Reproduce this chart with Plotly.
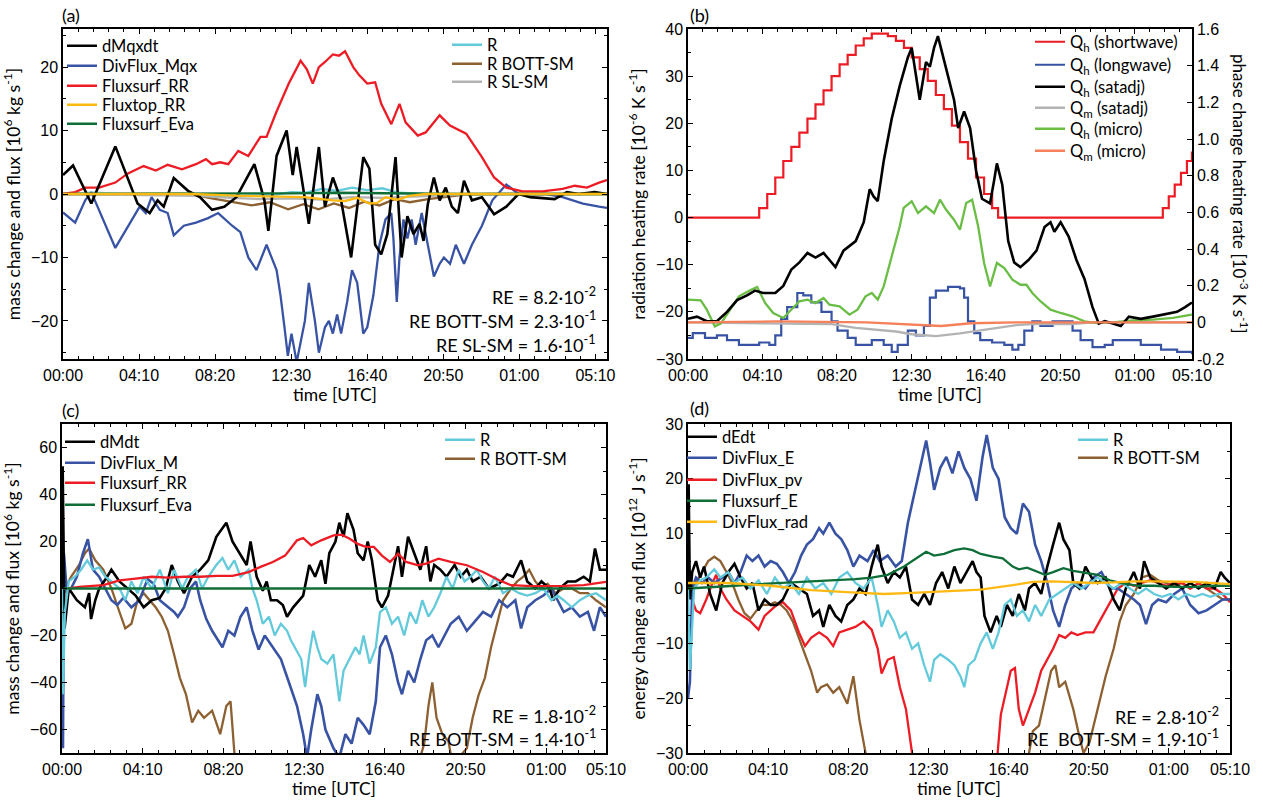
import plotly.graph_objects as go

W, H = 1263, 801
FONT = "Lato"
TICKFONT = "Liberation Sans"

# ---------------- time axis labels ----------------
tick_text = ["00:00", "04:10", "08:20", "12:30", "16:40", "20:50", "01:00", "05:10"]

# ---------------- panel (a) ----------------
a_t_dMqxdt = [0,33,93,172,245,285,311,331,364,411,450,490,530,570,629,662,675,702,735,755,768,808,841,861,887,914,947,967,987,1007,1026,1046,1066,1093,1113,1132,1152,1172,1185,1199,1219,1238,1258,1278,1298,1318,1344,1377,1417,1457,1497,1536,1616,1656,1695,1748,1788]
a_v_dMqxdt = [3,4.5,-1.5,7.5,-1.5,-3,-1,-2,2.5,0.5,-0.5,-2.5,-2,-0.5,4.7,-1,-5.8,6,10,3,7.4,-4.7,7.4,-2,2.6,-1,-10,-2,5.8,4,-8,-9.5,-6.3,5.8,-10,-3.5,-6.3,-4.7,-7.4,-1.6,2.6,-1,1,-2,-3,2.1,-1,-0.5,-3.2,-2,0,-0.5,-0.8,0.3,0,0.3,0]
a_t_div = [0,40,73,93,172,252,272,291,318,344,364,397,437,477,510,556,583,609,636,656,669,702,715,728,739,751,761,768,795,808,828,841,861,874,887,901,914,934,950,967,987,1000,1020,1040,1060,1079,1086,1097,1106,1119,1132,1146,1159,1179,1199,1219,1238,1252,1272,1291,1318,1344,1377,1411,1457,1497,1536,1589,1642,1709,1762,1788]
a_v_div = [-2.9,-4.5,-1,0.3,-8.5,-2,-3,-0.5,-2.5,-3,-6.5,-5,-4.5,-3.8,-3,-5,-6,-10,-12,-9.5,-8,-12,-16,-21,-25.5,-22,-25,-26.5,-20,-14,-20,-25,-21,-20,-22,-19,-22,-17,-12,-14,-22,-21,-16,-8,-4,-3,-7,-17,-10,-4,-7,-4,-8,-3,-8,-13,-11,-10,-11,-8,-11,-8,-5,-1,1.5,0,0,0,-0.5,-1.5,-2,-2.2]
a_t_rr = [0,40,73,119,172,212,265,305,344,391,437,470,490,517,543,576,609,649,669,702,742,781,801,821,841,861,887,907,927,954,974,1000,1026,1046,1079,1106,1126,1166,1192,1238,1272,1325,1377,1417,1457,1510,1576,1642,1682,1722,1762,1788]
a_v_rr = [0,0.3,1,1,1.8,3.2,4.4,3.7,4.6,3.9,4.7,5.5,4.7,5,4.7,6.8,6,9,9,13,17.4,21,19.7,17.4,20,20.8,22,21.8,22.5,20,18.7,17.4,17.6,14.2,11,14.2,11.3,9.2,9.7,12.4,10.8,9.5,5.8,2.6,1,0.4,0.4,0.8,1.3,1,1.8,2.2]
a_t_top = [0,424,583,795,887,927,967,1007,1033,1060,1099,1139,1192,1788]
a_v_top = [0,0,-0.3,-0.5,-1,-1.1,-0.6,-1.5,-1.4,-0.5,-0.9,-0.3,0,0]
a_t_eva = [0,500,750,900,1050,1300,1788]
a_v_eva = [0,0,0.1,0.2,0.1,0,0]
a_t_R = [0,100,200,300,400,500,600,700,750,800,850,900,950,1000,1050,1100,1200,1300,1400,1500,1600,1788]
a_v_R = [0,0.2,0,0,0.1,-0.2,-0.3,-0.1,0.3,0.2,0.8,0.5,1.0,0.6,0.9,0.2,0,0,0,0,0,0]
a_t_bott = [0,420,480,550,620,680,740,790,840,890,940,990,1040,1090,1140,1200,1260,1320,1400,1788]
a_v_bott = [0,0,-0.6,-1.2,-1.8,-1.3,-2.4,-1.6,-2.4,-1.5,-2.2,-1.2,-1.8,-0.8,-1.3,-0.8,-0.5,-0.1,0,0]
a_t_sl = [0,450,550,650,750,850,950,1050,1150,1250,1350,1788]
a_v_sl = [0,-0.3,-0.6,-0.8,-0.7,-0.9,-0.5,-0.6,-0.4,-0.2,0,0]

# ---------------- panel (b) ----------------
b_t_sw = [0,219,239,266,293,320,347,374,401,428,455,482,509,536,563,590,617,644,671,698,725,751,778,805,832,859,886,913,940,967,994,1021,1041,1574,1594,1614,1634,1655,1675,1692]
b_v_sw = [0,0,2,5,8.5,12,15,18,21,24,27,30,32.5,34.5,36.5,38,39,39,38.5,37.5,36,34,31.5,29,26,23,19.5,16,12.5,8.5,5,2,0,0,2,4.5,7,9.5,12,14]
b_t_lw = [0,16,57,97,131,171,239,273,293,313,333,367,387,414,448,482,502,536,563,617,657,684,704,738,765,792,812,832,873,913,927,940,961,981,1021,1062,1089,1109,1129,1156,1183,1224,1264,1291,1318,1358,1399,1426,1480,1520,1588,1642,1692]
b_v_lw = [-25.5,-24.5,-25.5,-25,-26,-27,-26.5,-27,-25,-21.5,-19,-16,-16.5,-18,-20,-22,-24,-25.5,-27,-26,-27,-28.5,-27,-24,-25,-23,-17,-15.5,-14.7,-15,-17,-22,-24.5,-26,-26.5,-27,-28,-27,-24,-22,-23,-22,-22,-24,-26,-27.5,-27,-26,-26,-27,-28,-28.5,-29]
b_t_sat = [0,30,63,97,131,165,198,225,252,293,320,347,374,401,428,455,475,495,522,563,590,610,623,637,657,684,711,738,751,765,778,799,812,826,839,853,873,893,907,927,947,967,987,1014,1028,1037,1055,1075,1095,1116,1143,1170,1197,1217,1230,1251,1278,1304,1331,1358,1379,1399,1426,1453,1480,1520,1561,1601,1642,1669,1692]
b_v_sat = [0.019,0.031,0.006,0.006,0.057,0.121,0.147,0.173,0.160,0.160,0.199,0.288,0.327,0.378,0.353,0.378,0.340,0.301,0.391,0.443,0.546,0.726,0.687,0.661,0.880,1.111,1.291,1.445,1.497,1.343,1.214,1.420,1.394,1.497,1.561,1.471,1.343,1.214,1.060,1.150,1.060,0.828,0.674,0.649,0.777,0.867,0.751,0.443,0.327,0.301,0.340,0.391,0.520,0.546,0.494,0.546,0.468,0.340,0.237,0.083,-0.007,0.006,-0.007,-0.020,0.031,0.019,0.031,0.044,0.057,0.083,0.108]
b_t_qmsat = [0,279,482,563,644,698,751,832,913,981,1048,1102,1156,1291,1358,1692]
b_v_qmsat = [0,-0.005,-0.01,-0.03,-0.04,-0.05,-0.065,-0.075,-0.06,-0.045,-0.03,-0.015,-0.01,-0.01,0,0]
b_t_micro = [0,43,63,90,111,138,171,212,232,259,286,320,347,374,401,428,455,475,509,542,569,596,617,637,657,684,711,724,751,772,799,826,846,866,893,913,934,954,974,994,1014,1037,1062,1089,1116,1136,1156,1183,1217,1251,1291,1331,1372,1426,1493,1561,1628,1692]
b_v_micro = [0.124,0.12,0.069,-0.022,-0.005,0.06,0.142,0.178,0.193,0.105,0.051,0.024,0.069,0.115,0.124,0.105,0.133,0.096,0.087,0.042,0.069,0.142,0.16,0.124,0.196,0.36,0.524,0.624,0.66,0.596,0.633,0.596,0.669,0.615,0.56,0.505,0.651,0.669,0.524,0.324,0.196,0.324,0.296,0.233,0.205,0.205,0.16,0.115,0.069,0.051,0.033,0.005,-0.004,0,0.011,0.015,0.024,0.042]
b_t_qmmicro = [0,300,600,750,850,950,1100,1692]
b_v_qmmicro = [0,0.005,0,-0.01,-0.02,-0.005,0,0]

# ---------------- panel (c) ----------------
c_t_dMdt = [0,2,8,21,46,71,84,90,103,115,140,153,178,203,228,253,278,303,321,340,359,378,403,428,453,478,509,528,553,572,584,603,622,634,647,666,684,697,716,734,747,766,784,803,816,828,847,859,872,884,903,916,934,947,960,978,991,1010,1028,1041,1053,1072,1091,1110,1128,1141,1153,1172,1191,1216,1235,1254,1272,1297,1322,1354,1379,1397,1422,1441,1466,1485,1510,1522,1541,1566,1591,1616,1635,1651,1666,1685]
c_v_dMdt = [0,52,-17,0,-5,-8,-2,-13,-5,0,5,8,3,0,-3,-8,-5,-4,0,10,3,-2,5,8,12,22,28,20,14,10,20,5,-1,3,-5,-5,-7,-12,-8,-5,-3,10,5,12,2,15,20,28,22,32,25,15,12,20,12,-5,-8,-3,10,18,5,22,15,8,18,3,10,8,5,10,5,8,3,5,0,2,6,5,12,3,0,3,0,-5,0,3,3,5,3,17,8,8]
c_t_div = [0,1,3,6,15,28,46,65,80,96,115,134,153,171,190,215,240,265,284,303,328,347,359,378,397,415,428,447,465,484,497,515,534,553,572,590,609,628,653,678,703,728,747,759,772,791,803,816,841,859,878,897,916,934,953,972,985,1003,1022,1041,1053,1072,1091,1110,1128,1147,1166,1185,1204,1229,1254,1279,1304,1329,1354,1379,1404,1422,1441,1466,1491,1516,1535,1554,1579,1604,1629,1648,1666,1685]
c_v_div = [0,32,-68,15,-2,0,5,15,21,8,5,0,-5,-7,-4,-8,-5,4,2,-5,-8,-10,-12,-8,0,3,-5,-13,-18,-22,-25,-18,-20,-12,-8,-18,-26,-20,-25,-30,-40,-50,-62,-72,-60,-45,-50,-60,-68,-72,-62,-66,-55,-58,-62,-48,-25,-20,-28,-40,-45,-35,-40,-30,-22,-20,-25,-20,-15,-12,-18,-14,-10,-12,-5,-8,-5,-17,-8,-5,-3,0,-5,-10,-8,-12,-10,-18,-8,-12]
c_t_rr = [21,53,128,178,228,278,328,378,428,478,528,578,615,653,691,728,747,772,803,841,866,891,916,941,966,991,1016,1041,1066,1103,1128,1166,1204,1254,1304,1354,1391,1454,1554,1616,1685]
c_v_rr = [0,0.7,1.4,3.5,4.2,5,4.6,5,5,5.4,5.4,7,9.2,11.3,14,20.5,21.5,18.4,20.5,22.6,22.9,21.2,19,17.7,17.7,14,11.3,14.8,11.3,9.9,10.6,12.7,11.3,9.9,7,3.5,1.4,1,1.1,1.4,2.8]
c_t_eva = [5,1685]
c_v_eva = [0,0]
c_t_R = [0,3,9,21,40,59,78,96,115,134,153,178,196,215,234,253,278,303,328,347,372,390,415,434,453,478,497,515,534,553,578,590,603,622,641,659,678,697,709,722,741,753,766,778,791,803,822,841,859,872,891,909,922,934,953,972,985,1003,1022,1041,1060,1078,1097,1116,1135,1153,1172,1191,1210,1229,1247,1266,1285,1304,1322,1341,1366,1391,1416,1441,1466,1491,1516,1535,1554,1579,1604,1629,1654,1685]
c_v_R = [0,-45,-10,3,5,8,12,8,9,5,3,0,-5,3,-2,5,0,8,-2,8,0,5,8,0,5,10,13,8,12,5,8,0,-5,-15,-12,-20,-15,-18,-22,-25,-30,-42,-28,-18,-25,-30,-32,-28,-48,-35,-30,-25,-28,-20,-32,-25,-10,-8,-15,-12,-20,-10,-15,-5,-12,-8,-2,5,0,8,3,5,8,3,0,5,-2,0,-2,-3,-2,0,-5,-3,-5,-8,-5,-3,-2,-5]
c_t_bott = [9,28,53,71,84,103,128,153,178,196,215,234,253,271,290,309,328,347,365,384,403,422,440,465,490,509,522,534,553,803,1053,1103,1122,1135,1147,1160,1178,1197,1210,1254,1272,1291,1310,1329,1347,1366,1391,1410,1429,1447,1466,1485,1504,1529,1554,1579,1604,1629,1654,1685]
c_v_bott = [0,5,10,15,17,12,8,0,-10,-17,-15,-5,-2,-5,-8,-12,-18,-28,-38,-45,-57,-52,-55,-52,-62,-50,-48,-70,-80,-95,-90,-75,-66,-50,-40,-55,-62,-65,-75,-68,-55,-45,-38,-25,-15,-5,0,3,5,8,3,0,2,-2,0,0,-2,-2,-5,-8]

# ---------------- panel (d) ----------------
d_t_dEdt = [0,2,6,13,25,38,50,69,88,107,126,145,164,183,201,220,239,258,277,296,321,346,371,390,409,422,441,460,478,497,516,535,554,573,592,604,623,642,661,680,699,718,737,755,774,793,812,831,850,869,888,900,913,925,944,963,976,995,1013,1032,1051,1064,1083,1102,1121,1139,1158,1171,1190,1202,1221,1240,1259,1278,1303,1328,1347,1366,1391,1410,1423,1442,1467,1492,1517,1542,1567,1593,1618,1643,1662,1674,1691]
d_v_dEdt = [0,19,-2,3,5,2,4,-1,-4,1,3,4.5,2,0,1,-4,-2,-3,-3,-2,1,0,-1,-5,-4,-7,-3,-5,-6,-3,-2,0,-1,4,8,4,1,3,2,4,-2,-3,-1,-3,1,3,0,4,1,3,5,3,2,-5,-8,-5,-7,-3,-5,-1,-4,0,1,-1,4,8,12,9,7,1,0,4,2,1,2,-2,-4,0,3,0,5,2,1,0,1,0,1,0,1,0,3,2,1]
d_t_div = [0,6,13,25,44,63,82,107,126,145,164,183,201,220,239,258,277,296,315,334,353,371,390,409,422,441,460,478,497,516,535,560,579,598,623,648,667,686,705,724,743,755,768,787,806,825,844,862,881,900,919,932,951,969,988,1007,1026,1045,1064,1083,1102,1121,1139,1158,1177,1196,1215,1240,1265,1290,1316,1341,1366,1391,1410,1429,1448,1467,1492,1517,1542,1567,1593,1618,1643,1668,1691]
d_v_div = [-20,-17,0,2,1,2,1,2,3,1,3,6,5,6,4,5,4.5,3,1,3,6,8,9,11,10,12,10,9,7,4,6,5,7,5,6,4,5,12,17,22,27,23,18,22,24,21,25,22,20,16,24,28,22,20,13,11,10,15.5,14,8,5,1,-4,-7,-3,0,1,0,2,3,0,0,-1,-2,-3,-6.5,-3,-2,-2.5,-1,0,-3,-4.5,-4,-3,-2,-2]
d_t_pv = [0,13,25,38,57,76,88,101,120,145,170,195,220,239,258,277,296,321,346,365,384,409,434,453,472,497,522,548,573,592,604,623,642,661,680,699,724,825,925,957,966,976,988,1007,1020,1032,1045,1064,1083,1102,1121,1139,1158,1177,1196,1215,1240,1265,1284,1303,1322,1341,1366,1391,1416,1442,1467,1492,1517,1542,1567,1593,1618,1643,1668,1691]
d_v_pv = [0,-2,-4,-4.5,-2,1,2.5,0,-2,-4,-5,-6,-7.5,-5,-4,-3,-2.5,-4,-8,-10.5,-9,-8,-9,-10.5,-8,-7.5,-7,-6,-7.5,-11,-15.5,-13,-12.5,-18,-22,-30,-35,-40,-38,-32,-30,-23,-20,-15,-14.5,-22,-25,-22,-19,-15,-13,-11,-8.5,-9,-8,-8.5,-8,-8,-6,-4,-2,0,1,0.5,1,1.5,1,0.5,1,1,0,1,0,0,-1,-2.5]
d_t_surf = [0,69,145,220,296,371,447,522,573,623,674,711,743,768,799,831,862,888,913,951,982,1013,1032,1058,1089,1114,1139,1171,1202,1240,1278,1316,1353,1404,1454,1517,1580,1643,1691]
d_v_surf = [0,0.3,0.5,0.8,1,1.3,1.5,1.7,2,2.5,4,5.5,6.7,6,6.3,7,7.3,7,6.3,5.8,5.5,4,3.5,3.8,3,2.5,3,3.7,3.2,2.8,2.5,1.5,1,0.5,0.5,0.3,0.3,0.5,0.5]
d_t_rad = [0,132,258,384,510,611,699,825,913,1013,1076,1139,1202,1265,1328,1391,1454,1580,1691]
d_v_rad = [1,1,0.5,-0.3,-0.7,-1,-0.8,-0.5,-0.2,0.6,1.2,1.3,1.2,1.0,1.1,1.3,1.3,1.2,0.8]
d_t_R = [0,6,19,38,57,82,101,126,145,170,195,220,246,271,296,321,346,371,397,422,447,472,497,522,548,573,592,604,623,642,661,680,699,718,737,755,768,787,812,831,850,862,875,894,913,932,951,969,988,1007,1026,1045,1064,1083,1102,1127,1152,1177,1202,1228,1253,1278,1303,1328,1353,1379,1404,1429,1454,1479,1505,1530,1555,1580,1605,1630,1656,1691]
d_v_R = [0,-15,0,1.5,2,3.5,2,3,1,2,0,1.5,-1,2,0,1,-1,2,0,1,-1,2,3,1,0,2,-3,-7,-4,-6,-9,-8,-11,-10,-14,-17,-13,-12,-13,-14,-16,-18,-14,-13,-10,-8,-11,-8,-3,-2,-5,-4,-6,-3,-5,-2,-1,0,1,0,1,2,1,0,1,0,-1,0,-1,-1.5,-1,-2,-1,-1.5,-1,-1.5,-1,-1]
d_t_bott = [6,25,44,63,82,101,120,138,157,176,195,214,233,252,271,290,308,327,346,365,384,403,415,434,453,472,497,516,535,554,573,825,1026,1064,1076,1095,1114,1133,1146,1158,1177,1202,1221,1234,1253,1278,1303,1328,1347,1366,1391,1416,1442,1467,1492,1517,1542,1567,1593,1618,1643,1668,1691]
d_v_bott = [0,1,3,5,5.8,5,3,1,-2,-4.5,-5.5,-4,-3,-3,-2.5,-3,-4,-6,-9,-12,-15,-19,-18,-17.5,-19,-18,-21,-16,-24,-30,-33,-40,-34,-30,-26,-25,-20,-15,-14,-18,-17,-22,-27,-30,-28,-22,-16,-11,-6,-3,-1,2,2.5,1.5,1,0.5,1,0,1,0,-1,-2,-2]

# ---------------- colours ----------------
BLACK = "#000000"
BLUE = "#3953a4"
RED = "#ed1c24"
YELLOW = "#fdb913"
DGREEN = "#0f6e37"
CYAN = "#63cadb"
BROWN = "#8c6031"
GRAY = "#b3b3b3"
LGREEN = "#6abd45"
SALMON = "#f58059"


def px(v):
    return v / W


def py(v):
    return 1 - v / H


fig = go.Figure()
legends = {}
legend_common = dict(bgcolor="rgba(0,0,0,0)", borderwidth=0, xanchor="left", yanchor="middle",
                     font=dict(family=FONT, size=16.5, color="black"), itemwidth=30)


def add(x, y, name, color, xa, ya, leg_x, leg_y, width=2.3, shape="linear"):
    key = "legend" if not legends else "legend%d" % (len(legends) + 1)
    legends[key] = dict(legend_common, x=px(leg_x - 45), y=py(leg_y))
    fig.add_trace(go.Scatter(
        x=x, y=y, name=name, mode="lines",
        line=dict(color=color, width=width, shape=shape),
        xaxis=xa, yaxis=ya, legend=key, hoverinfo="skip"))


# panel (a)  -- legend text x / y centre in pixels
add(a_t_bott, a_v_bott, "R BOTT-SM", BROWN, "x", "y", 492, 64)
add(a_t_sl, a_v_sl, "R SL-SM", GRAY, "x", "y", 492, 82)
add(a_t_R, a_v_R, "R", CYAN, "x", "y", 492, 45)
add(a_t_div, a_v_div, "DivFlux_Mqx", BLUE, "x", "y", 107, 66)
add(a_t_rr, a_v_rr, "Fluxsurf_RR", RED, "x", "y", 107, 86)
add(a_t_dMqxdt, a_v_dMqxdt, "dMqxdt", BLACK, "x", "y", 107, 46, 2.6)
add(a_t_eva, a_v_eva, "Fluxsurf_Eva", DGREEN, "x", "y", 107, 124)
add(a_t_top, a_v_top, "Fluxtop_RR", YELLOW, "x", "y", 107, 105)

# panel (b)
add(b_t_sw, b_v_sw, "Q<sub>h</sub> (shortwave)", RED, "x2", "y2", 1075, 42, 2.2, "hv")
add(b_t_lw, b_v_lw, "Q<sub>h</sub> (longwave)", BLUE, "x2", "y2", 1075, 65, 2.2, "hv")
add(b_t_qmsat, b_v_qmsat, "Q<sub>m</sub> (satadj)", GRAY, "x2", "y3", 1075, 108)
add(b_t_micro, b_v_micro, "Q<sub>h</sub> (micro)", LGREEN, "x2", "y3", 1075, 129)
add(b_t_sat, b_v_sat, "Q<sub>h</sub> (satadj)", BLACK, "x2", "y3", 1075, 87, 2.6)
add(b_t_qmmicro, b_v_qmmicro, "Q<sub>m</sub> (micro)", SALMON, "x2", "y3", 1075, 151)

# panel (c)
add(c_t_bott, c_v_bott, "R BOTT-SM", BROWN, "x3", "y4", 485, 459)
add(c_t_div, c_v_div, "DivFlux_M", BLUE, "x3", "y4", 105, 463, 2.6)
add(c_t_dMdt, c_v_dMdt, "dMdt", BLACK, "x3", "y4", 105, 442, 2.6)
add(c_t_R, c_v_R, "R", CYAN, "x3", "y4", 485, 440)
add(c_t_rr, c_v_rr, "Fluxsurf_RR", RED, "x3", "y4", 105, 483)
add(c_t_eva, c_v_eva, "Fluxsurf_Eva", DGREEN, "x3", "y4", 105, 505)

# panel (d)
add(d_t_bott, d_v_bott, "R BOTT-SM", BROWN, "x4", "y5", 1118, 458)
add(d_t_pv, d_v_pv, "DivFlux_pv", RED, "x4", "y5", 727, 480)
add(d_t_div, d_v_div, "DivFlux_E", BLUE, "x4", "y5", 727, 458, 2.6)
add(d_t_dEdt, d_v_dEdt, "dEdt", BLACK, "x4", "y5", 727, 437, 2.6)
add(d_t_R, d_v_R, "R", CYAN, "x4", "y5", 1118, 440)
add(d_t_surf, d_v_surf, "Fluxsurf_E", DGREEN, "x4", "y5", 727, 501)
add(d_t_rad, d_v_rad, "DivFlux_rad", YELLOW, "x4", "y5", 727, 522)


axis_common = dict(
    showline=True, linecolor="black", linewidth=1.5, ticks="inside",
    ticklen=5, tickcolor="black", tickwidth=1, showgrid=False, zeroline=False,
    tickfont=dict(family=TICKFONT, size=16, color="black"),
)


def xaxis(dom, anchor, end):
    tv = [0, 250, 500, 750, 1000, 1250, 1500, 1750] if end > 1760 else [0, 250, 500, 750, 1000, 1250, 1500, end]
    return dict(axis_common, domain=dom, anchor=anchor, range=[0, end], mirror="ticks",
                tickvals=tv, ticktext=tick_text, ticklabelstandoff=1,
                minor=dict(tick0=0, dtick=50, ticks="inside", ticklen=3, tickcolor="black"),
                title=dict(text="time [UTC]", font=dict(family=FONT, size=17.5, color="black"), standoff=0))


def ytitle(t):
    return dict(text=t, font=dict(family=FONT, size=17.5, color="black"), standoff=6)


def yminor(d):
    return dict(dtick=d, ticks="inside", ticklen=3, tickcolor="black")


top_dom = [py(359), py(29)]
bot_dom = [py(753), py(424)]

fig.update_layout(
    width=W, height=H, margin=dict(l=0, r=0, t=0, b=0, autoexpand=False),
    paper_bgcolor="white", plot_bgcolor="white",
    font=dict(family=FONT, color="black"),
    showlegend=True,
    xaxis=xaxis([px(63), px(607)], "y", 1788),
    yaxis=dict(axis_common, domain=top_dom, anchor="x", range=[-26, 26], mirror="ticks",
               tickvals=[-20, -10, 0, 10, 20], minor=yminor(5),
               title=ytitle("mass change and flux [10<sup>6</sup> kg s<sup>-1</sup>]")),
    xaxis2=xaxis([px(688), px(1192)], "y2", 1692),
    yaxis2=dict(axis_common, domain=top_dom, anchor="x2", range=[-30, 40], mirror=False,
                tickvals=[-30, -20, -10, 0, 10, 20, 30, 40], minor=yminor(5),
                title=ytitle("radiation heating rate [10<sup>-6</sup> K s<sup>-1</sup>]")),
    yaxis3=dict(axis_common, overlaying="y2", side="right", anchor="x2", range=[-0.2, 1.6],
                tickvals=[-0.2, 0, 0.2, 0.4, 0.6, 0.8, 1.0, 1.2, 1.4, 1.6],
                ticktext=["-0.2", "0", "0.2", "0.4", "0.6", "0.8", "1.0", "1.2", "1.4", "1.6"]),
    xaxis3=xaxis([px(62), px(606)], "y4", 1685),
    yaxis4=dict(axis_common, domain=bot_dom, anchor="x3", range=[-70, 70], mirror="ticks",
                tickvals=[-60, -40, -20, 0, 20, 40, 60], minor=yminor(10),
                title=ytitle("mass change and flux [10<sup>6</sup> kg s<sup>-1</sup>]")),
    xaxis4=xaxis([px(688), px(1230)], "y5", 1691),
    yaxis5=dict(axis_common, domain=bot_dom, anchor="x4", range=[-30, 30], mirror="ticks",
                tickvals=[-30, -20, -10, 0, 10, 20, 30], minor=yminor(5),
                title=ytitle("energy change and flux [10<sup>12</sup> J s<sup>-1</sup>]")),
    **legends,
)

ann = []


def label(text, x, y, size=17.5, xanchor="left", angle=0):
    ann.append(dict(text=text, x=x, y=y, xref="paper", yref="paper", showarrow=False,
                    xanchor=xanchor, yanchor="middle", textangle=angle,
                    font=dict(family=FONT, size=size, color="black")))


label("(a)", px(60), py(15), 18)
label("(b)", px(688), py(15), 18)
label("(c)", px(60), py(410), 18)
label("(d)", px(688), py(408), 18)

RE_a = ["RE = 8.2·10<sup>-2</sup>", "RE BOTT-SM = 2.3·10<sup>-1</sup>", "RE SL-SM = 1.6·10<sup>-1</sup>"]
RE_c = ["RE = 1.8·10<sup>-2</sup>", "RE BOTT-SM = 1.4·10<sup>-1</sup>"]
RE_d = ["RE = 2.8·10<sup>-2</sup>", "RE  BOTT-SM = 1.9·10<sup>-1</sup>"]
for txt, yy in zip(RE_a, [296, 320, 344]):
    label(txt, px(598), py(yy), 18, "right")
for txt, yy in zip(RE_c, [715, 738]):
    label(txt, px(598), py(yy), 18, "right")
for txt, yy in zip(RE_d, [716, 738]):
    label(txt, px(1221), py(yy), 18, "right")

label("phase change heating rate [10<sup>-3</sup> K s<sup>-1</sup>]", px(1241), py(194), 17, "center", 90)

fig.update_layout(annotations=ann)

fig.write_html("out.html", config={"displayModeBar": False})
